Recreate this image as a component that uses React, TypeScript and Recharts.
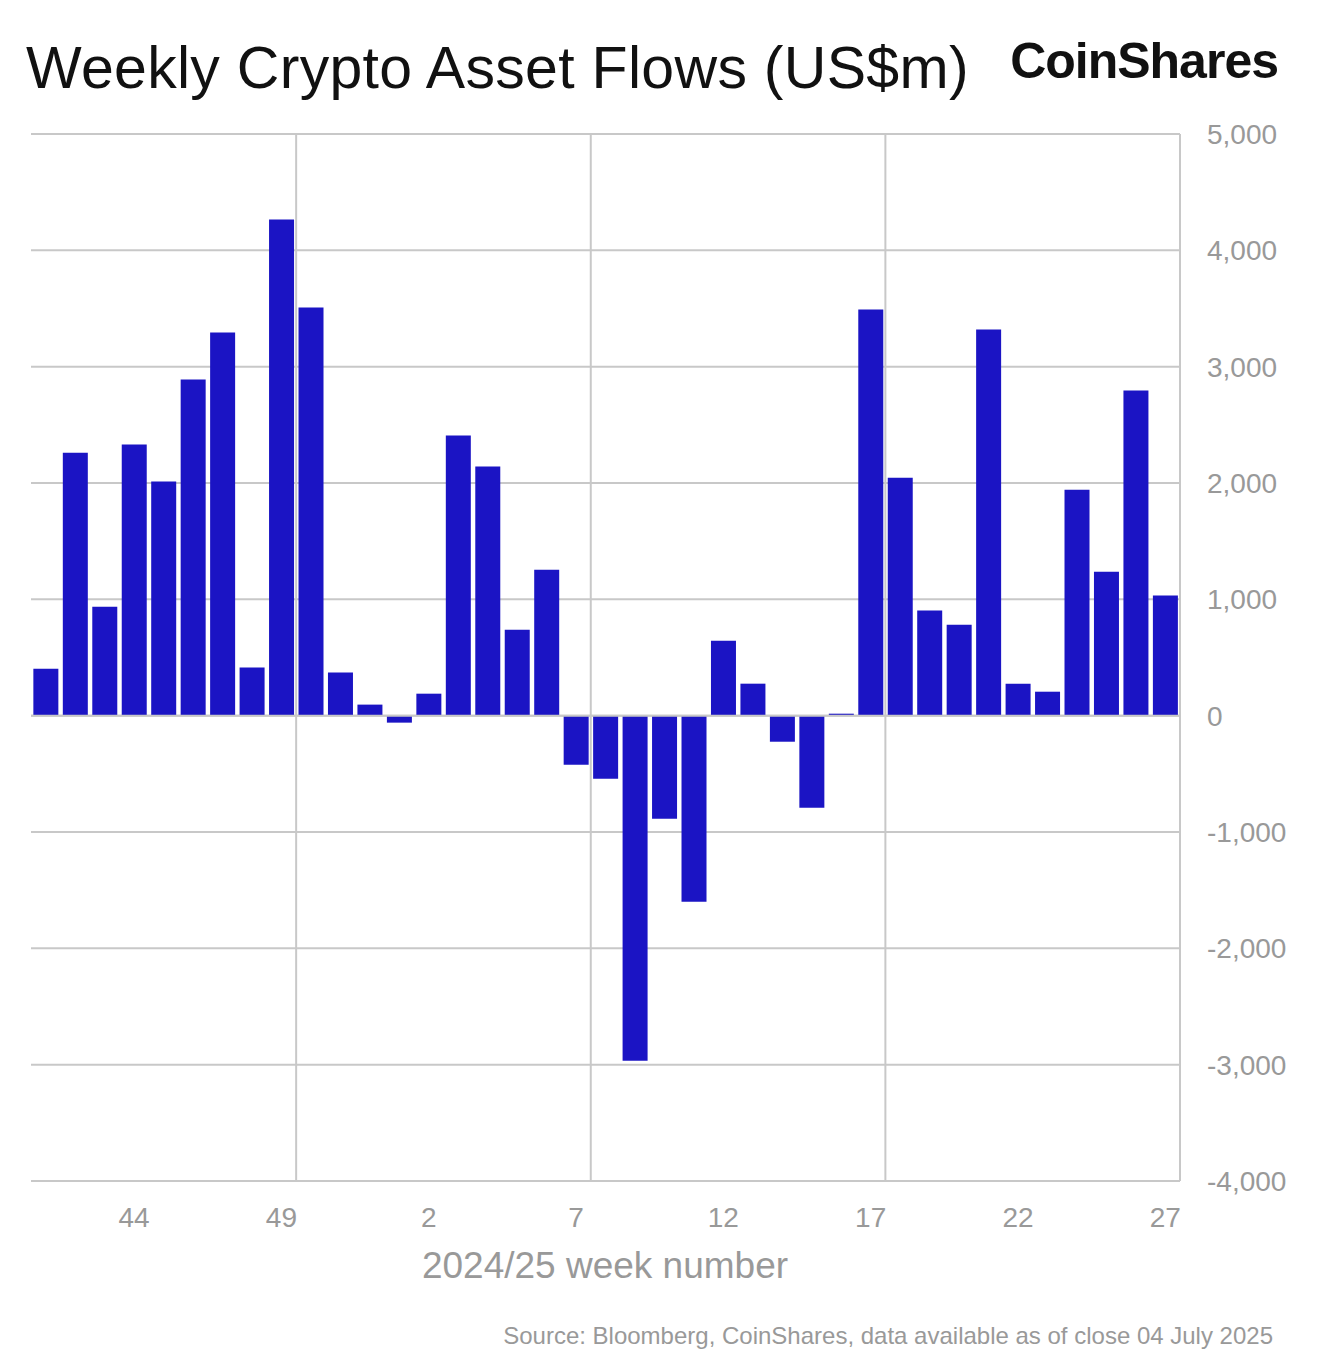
import { Bar, BarChart, CartesianGrid, XAxis, YAxis, ReferenceLine } from "recharts"

const weeks = [
  "41", "42", "43", "44", "45", "46", "47", "48", "49", "50", "51", "52",
  "1", "2", "3", "4", "5", "6", "7", "8", "9", "10", "11", "12", "13", "14",
  "15", "16", "17", "18", "19", "20", "21", "22", "23", "24", "25", "26", "27",
]
const flows = [
  404, 2261, 937, 2330, 2012, 2889, 3293, 413, 4265, 3508, 370, 95,
  -60, 189, 2408, 2141, 739, 1255, -421, -542, -2966, -886, -1599, 645, 275, -224,
  -791, 17, 3491, 2046, 903, 782, 3319, 275, 206, 1943, 1238, 2795, 1032,
]
const xTicks = ["44", "49", "2", "7", "12", "17", "22", "27"]
const yTicks = [-4000, -3000, -2000, -1000, 0, 1000, 2000, 3000, 4000, 5000]

const data = weeks.map((w, i) => ({ week: w, flow: flows[i] }))
const font = "'Liberation Sans', Arial, sans-serif"

export default function App() {
  return (
    <div style={{ position: "absolute", top: 0, left: 0, width: 1334, height: 1368, background: "#fff", fontFamily: font }}>
      <div style={{ position: "absolute", left: 26, top: 34, fontSize: 59, color: "#111", letterSpacing: 0.3 }}>
        Weekly Crypto Asset Flows (US$m)
      </div>
      <div style={{ position: "absolute", right: 56, top: 32, fontSize: 50, fontWeight: 700, color: "#111", letterSpacing: -1 }}>
        CoinShares
      </div>
      <BarChart
        width={1334}
        height={1300}
        data={data}
        margin={{ top: 134, right: 0, bottom: 0, left: 31 }}
        barCategoryGap="8%"
      >
        <CartesianGrid
          stroke="#c8c8c8"
          strokeWidth={2}
          verticalCoordinatesGenerator={({ offset }: any) =>
            [9, 19, 29].map((k) => offset.left + (offset.width * k) / 39)
          }
        />
        <XAxis
          dataKey="week"
          ticks={xTicks}
          interval={0}
          axisLine={{ stroke: "#c8c8c8", strokeWidth: 2 }}
          tickLine={false}
          tick={{ fill: "#999", fontSize: 28, fontFamily: font }}
          tickMargin={20}
          height={119}
        />
        <YAxis
          orientation="right"
          domain={[-4000, 5000]}
          ticks={yTicks}
          interval={0}
          tickFormatter={(v: number) => v.toLocaleString("en-US")}
          axisLine={{ stroke: "#c8c8c8", strokeWidth: 2 }}
          tickLine={false}
          tick={{ fill: "#999", fontSize: 28, fontFamily: font }}
          tickMargin={21}
          width={154}
        />
        <ReferenceLine y={0} stroke="#c8c8c8" strokeWidth={2} />
        <Bar dataKey="flow" fill="#1b14c4" isAnimationActive={false} />
      </BarChart>
      <div style={{ position: "absolute", left: 0, width: 1210, top: 1245, textAlign: "center", fontSize: 37, color: "#999" }}>
        2024/25 week number
      </div>
      <div style={{ position: "absolute", right: 61, top: 1322, fontSize: 24, color: "#999" }}>
        Source: Bloomberg, CoinShares, data available as of close 04 July 2025
      </div>
    </div>
  )
}
